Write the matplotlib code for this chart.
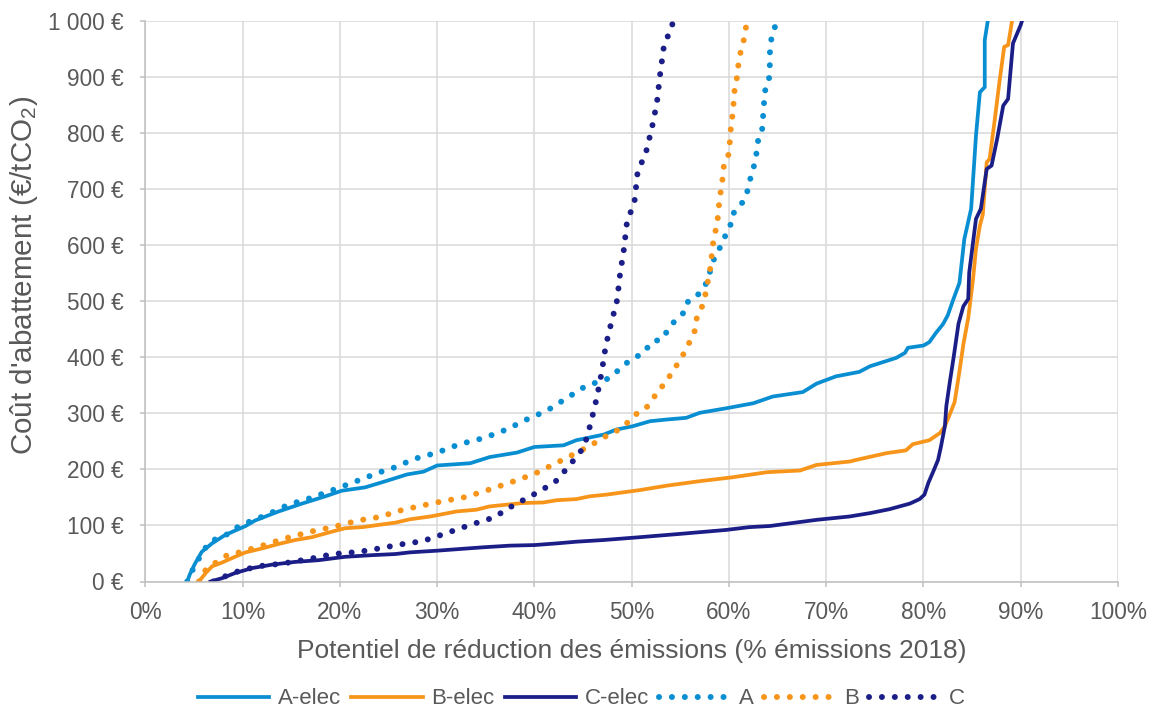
import matplotlib
matplotlib.use("Agg")
import matplotlib.pyplot as plt
from matplotlib.ticker import FuncFormatter

plt.rcParams['font.family'] = ['Liberation Sans', 'DejaVu Sans']
plt.rcParams['mathtext.fontset'] = 'custom'
plt.rcParams['mathtext.rm'] = 'Liberation Sans'
plt.rcParams['mathtext.it'] = 'Liberation Sans:italic'

# ---- data (x: % of 2018 emissions, y: €/tCO2) ----
a_elec_x = [4.3, 4.55, 5.1, 5.8, 6.85, 8.2, 10.3, 11.3, 13.7, 16.1, 18.5, 20.2, 22.6, 24.7, 26.9, 28.6,
            30.0, 33.4, 35.4, 38.2, 40.0, 43.0, 44.3, 47.1, 48.4, 50.1, 51.9, 53.6, 55.6, 57.0, 59.7,
            62.5, 64.5, 67.6, 69.0, 71.0, 73.4, 74.5, 77.2, 78.1, 78.4, 80.0, 80.6, 81.3, 82.0, 82.5,
            83.0, 83.7, 84.2, 84.9, 85.4, 85.8, 86.3, 86.3, 86.7]
a_elec_y = [0, 12, 32, 53, 68, 83, 99, 109, 125, 139, 152, 162, 168, 179, 191, 196,
            207, 211, 222, 230, 240, 243, 252, 262, 271, 277, 286, 289, 292, 301, 309,
            318, 330, 338, 353, 366, 374, 384, 399, 408, 417, 421, 427, 444, 459, 475,
            500, 533, 611, 665, 796, 873, 882, 966, 1010]

b_elec_x = [5.5, 6.2, 6.85, 7.9, 9.2, 10.3, 12.0, 13.7, 15.4, 17.1, 19.2, 20.5, 22.3, 24.0, 25.7,
            27.2, 29.3, 32.0, 34.0, 35.4, 38.8, 40.9, 42.3, 44.3, 45.7, 47.4, 49.1, 50.8, 53.6,
            57.0, 60.4, 63.9, 67.3, 69.0, 72.4, 73.1, 76.2, 78.2, 78.9, 80.6, 81.7, 82.2, 82.7,
            83.2, 83.7, 84.1, 84.6, 85.1, 85.4, 85.8, 86.1, 86.5, 86.8, 87.3, 87.8, 88.3, 88.7, 89.2]
b_elec_y = [0, 15, 27, 34, 44, 52, 59, 67, 74, 79, 89, 95, 97, 101, 105,
            111, 116, 125, 128, 134, 140, 141, 145, 147, 152, 155, 159, 163, 171,
            179, 186, 195, 198, 208, 214, 217, 229, 234, 245, 252, 265, 277, 298,
            320, 375, 423, 470, 540, 594, 635, 655, 748, 754, 820, 890, 954, 957, 1010]

c_elec_x = [6.7, 7.9, 9.2, 11.0, 13.0, 15.4, 17.8, 20.5, 23.3, 25.7, 27.2, 30.0, 34.7, 37.5, 40.0,
            42.3, 44.3, 47.1, 50.8, 55.0, 59.7, 62.1, 64.2, 69.0, 72.4, 74.5, 76.5, 78.6, 79.6,
            80.1, 80.5, 81.0, 81.5, 81.8, 82.2, 82.35, 82.7, 83.1, 83.6, 84.1, 84.6, 84.7, 85.4,
            85.9, 86.5, 87.0, 87.6, 88.2, 88.7, 89.2, 90.0, 90.3]
c_elec_y = [0, 6, 15, 24, 30, 35, 38, 44, 47, 49, 52, 55, 61, 64, 65,
            68, 71, 74, 79, 85, 92, 97, 99, 110, 116, 122, 129, 139, 147,
            155, 176, 196, 217, 241, 277, 313, 355, 400, 460, 491, 504, 551, 647,
            665, 736, 742, 792, 849, 861, 960, 993, 1010]

a_x = [4.3, 4.45, 5.1, 5.65, 6.6, 8.3, 8.9, 10.3, 12.5, 14.7, 17.0, 19.4, 21.7, 24.1, 25.4, 27.7,
       30.0, 32.3, 34.8, 37.1, 39.2, 41.3, 43.3, 45.3, 47.6, 48.5, 49.4, 50.3, 51.3, 52.0, 53.2,
       53.8, 54.6, 55.5, 55.8, 56.9, 57.6, 58.0, 58.4, 59.0, 59.5, 60.1, 60.3, 61.2, 61.8, 62.1,
       62.5, 62.8, 62.9, 63.4, 63.5, 63.6, 63.7, 64.1, 64.2, 64.2, 64.3, 64.7, 64.8]
a_y = [0, 10, 27, 46, 71, 83, 92, 104, 119, 137, 149, 164, 179, 195, 202, 219,
       230, 245, 256, 271, 289, 305, 327, 349, 362, 375, 389, 399, 409, 427, 433,
       452, 468, 482, 500, 513, 530, 550, 573, 593, 613, 630, 654, 671, 689, 713,
       736, 759, 782, 804, 828, 852, 875, 893, 918, 941, 964, 986, 1000]

b_x = [5.5, 5.8, 6.5, 7.5, 8.4, 9.9, 12.2, 14.4, 17.0, 19.5, 21.9, 24.4, 25.55, 28.05, 30.5, 33.0,
       35.35, 37.75, 40.0, 42.2, 44.5, 46.6, 47.6, 48.7, 49.6, 50.4, 51.4, 52.2, 52.65, 53.6, 54.1,
       54.9, 55.45, 56.0, 56.5, 56.7, 57.3, 57.6, 58.1, 58.4, 58.7, 58.9, 59.0, 59.3, 59.5, 60.0,
       60.1, 60.2, 60.4, 60.5, 60.6, 60.9, 61.0, 61.3, 61.6, 61.8]
b_y = [0, 12, 27, 36, 47, 53, 65, 77, 89, 98, 109, 116, 124, 134, 143, 151,
       164, 178, 192, 211, 231, 251, 262, 271, 284, 298, 308, 325, 341, 355, 374,
       392, 410, 429, 448, 471, 493, 514, 561, 609, 632, 654, 678, 712, 747, 763,
       787, 811, 836, 859, 882, 905, 930, 952, 971, 995]

c_x = [7.0, 9.1, 11.5, 14.1, 16.8, 19.3, 22.0, 24.7, 25.8, 28.5, 30.9, 33.4, 35.8, 37.75, 39.9,
       42.1, 43.6, 45.1, 45.8, 46.4, 46.9, 47.3, 47.6, 48.5, 48.8, 49.2, 49.5, 50.3, 50.6, 51.5,
       52.1, 52.6, 52.9, 53.3, 54.2]
c_y = [0, 16, 27, 32, 40, 49, 53, 61, 65, 72, 86, 101, 114, 135, 155,
       177, 207, 240, 283, 327, 372, 417, 441, 502, 548, 593, 639, 680, 729, 768,
       811, 855, 902, 954, 995]

x_ticks = [0, 10, 20, 30, 40, 50, 60, 70, 80, 90, 100]
y_ticks = [0, 100, 200, 300, 400, 500, 600, 700, 800, 900, 1000]

col_a = '#0A8ED2'
col_b = '#F7941A'
col_c = '#1B1E87'
txt = '#595959'
axc = '#BFBFBF'

fig = plt.figure(figsize=(11.52, 7.09), dpi=100)
ax = fig.add_axes([145.4 / 1152, 1 - 581.5 / 709, (1118 - 145.4) / 1152, (581.5 - 21) / 709])

lw = 2.7
dlw = 4.3
dot = (0, (0.01, 2.15))
ax.plot(a_elec_x, a_elec_y, color=col_a, lw=lw, label='A-elec')
ax.plot(b_elec_x, b_elec_y, color=col_b, lw=lw, label='B-elec')
ax.plot(c_elec_x, c_elec_y, color=col_c, lw=lw, label='C-elec')
ax.plot(a_x, a_y, color=col_a, lw=dlw, ls=dot, dash_capstyle='round', label='A')
ax.plot(b_x, b_y, color=col_b, lw=dlw, ls=dot, dash_capstyle='round', label='B')
ax.plot(c_x, c_y, color=col_c, lw=dlw, ls=dot, dash_capstyle='round', label='C')

ax.set_xlim(0, 100)
ax.set_ylim(0, 1000)
ax.set_xticks(x_ticks)
ax.set_yticks(y_ticks)
ax.xaxis.set_major_formatter(FuncFormatter(lambda v, p: f"{int(v)}%"))
ax.yaxis.set_major_formatter(FuncFormatter(lambda v, p: (f"{int(v):,} €").replace(',', ' ')))
ax.tick_params(axis='both', length=3.6, width=1.1, color=axc, labelsize=16.3, labelcolor=txt)
ax.tick_params(axis='x', pad=10.5)
ax.tick_params(axis='y', pad=12)
ax.grid(True, color='#D9D9D9', lw=1.1)
ax.set_axisbelow(True)
for s in ['top', 'right']:
    ax.spines[s].set_visible(False)
for s in ['left', 'bottom']:
    ax.spines[s].set_color(axc)
    ax.spines[s].set_linewidth(1.1)

ax.set_xlabel('Potentiel de réduction des émissions (% émissions 2018)', fontsize=19, color=txt)
ax.xaxis.set_label_coords(0.5, (581.5 - 639) / 560.5)
ax.set_ylabel("Coût d'abattement (€/tCO$_2$)", fontsize=21.3, color=txt, va='center')
ax.yaxis.set_label_coords((24.5 - 145.4) / 972.6, (581.5 - 275) / 560.5)

leg = fig.legend(loc='center', bbox_to_anchor=(581.5 / 1152, 1 - 699 / 709), ncol=6, frameon=False,
                 fontsize=16, handlelength=3.2, columnspacing=0.45, handletextpad=0.4,
                 borderaxespad=0, borderpad=0)
for t in leg.get_texts():
    t.set_color(txt)

fig.savefig('out.png', dpi=100)
